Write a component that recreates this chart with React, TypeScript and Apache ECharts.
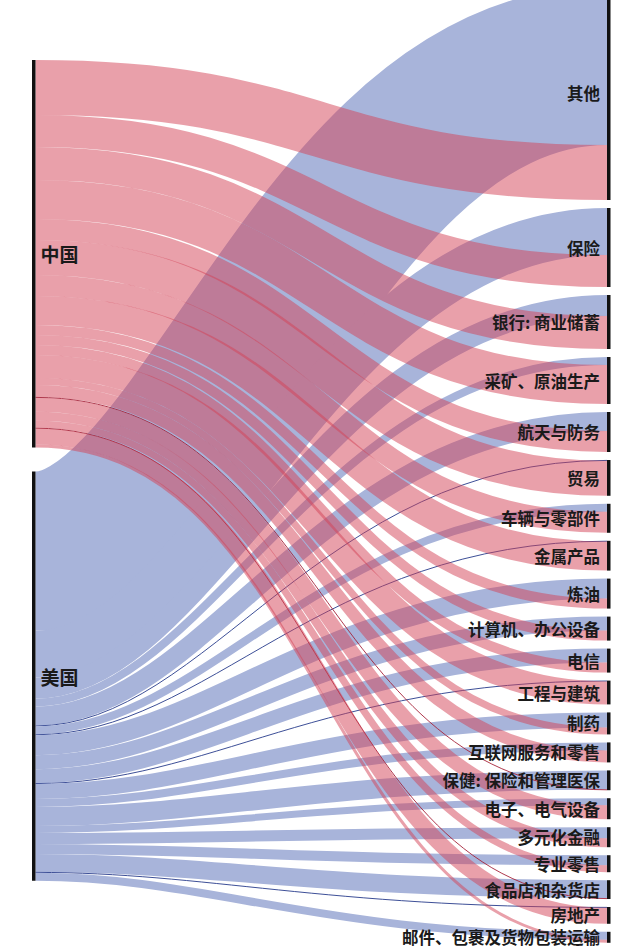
import { useEffect, useRef } from 'react';
import * as echarts from 'echarts';

// ---- data ----
const SOURCES = ['中国', '美国'];
const TARGETS = [
  '其他',
  '保险',
  '银行: 商业储蓄',
  '采矿、原油生产',
  '航天与防务',
  '贸易',
  '车辆与零部件',
  '金属产品',
  '炼油',
  '计算机、办公设备',
  '电信',
  '工程与建筑',
  '制药',
  '互联网服务和零售',
  '保健: 保险和管理医保',
  '电子、电气设备',
  '多元化金融',
  '专业零售',
  '食品店和杂货店',
  '房地产',
  '邮件、包裹及货物包装运输',
];
const US_VALUES = [159, 47, 21, 8, 19, 0.8, 8, 0.8, 20, 14, 14, 0.8, 15, 8, 19, 7, 11, 10, 18, 0.8, 8];
const CN_VALUES = [55, 32, 33, 39, 21, 35, 21, 29, 10, 10, 10, 23, 7, 12, 0.8, 14, 9, 7, 0.8, 16, 3];

// ---- layout (value units on the y axis) ----
const RIGHT_START = -14;
const LEFT_START = 60;
const LEFT_GAP = 24;
const RIGHT_GAP = 8;
const THIN_LIMIT = 1;

const CN_COLOR = 'rgba(211,65,85,0.5)';
const US_COLOR = 'rgb(168,180,218)';
const CN_THIN = 'rgba(165,35,58,0.9)';
const US_THIN = 'rgba(40,60,140,0.9)';
const FONT = '"Noto Sans CJK SC", "Noto Sans", sans-serif';

export default function App() {
  const ref = useRef<HTMLDivElement>(null);

  useEffect(() => {
    const chart = echarts.init(ref.current as HTMLDivElement, null, { renderer: 'svg' });

    const sum = (a: number[]) => a.reduce((s, v) => s + v, 0);
    const cnTotal = sum(CN_VALUES);
    const usTotal = sum(US_VALUES);

    const targetTops: number[] = [];
    let cur = RIGHT_START;
    TARGETS.forEach((_, i) => {
      targetTops.push(cur);
      cur += US_VALUES[i] + CN_VALUES[i] + RIGHT_GAP;
    });
    const leftTops = [LEFT_START, LEFT_START + cnTotal + LEFT_GAP];
    const leftSizes = [cnTotal, usTotal];

    const makeLinks = (vals: number[], srcTop: number, tgtOffset: (i: number) => number) => {
      let c = srcTop;
      return vals.map((v, i) => {
        const s = c + v / 2;
        c += v;
        return [s, tgtOffset(i) + v / 2, v];
      });
    };
    const usLinks = makeLinks(US_VALUES, leftTops[1], (i) => targetTops[i]);
    const cnLinks = makeLinks(CN_VALUES, leftTops[0], (i) => targetTops[i] + US_VALUES[i]);

    const linkRender = (color: string, thinColor: string, c1: number, c2: number) => (_params: any, api: any) => {
      const sy = api.value(0);
      const ty = api.value(1);
      const v = api.value(2);
      const p0 = api.coord([0, sy]);
      const p1 = api.coord([1, ty]);
      const w = api.size([0, v])[1];
      const dx = p1[0] - p0[0];
      const thin = v < THIN_LIMIT;
      return {
        type: 'bezierCurve',
        shape: {
          x1: p0[0], y1: p0[1], x2: p1[0], y2: p1[1],
          cpx1: p0[0] + dx * c1, cpy1: p0[1], cpx2: p0[0] + dx * c2, cpy2: p1[1],
        },
        style: {
          fill: null,
          stroke: thin ? thinColor : color,
          lineWidth: thin ? 1 : w,
        },
      };
    };

    const nodeNames = [...SOURCES, ...TARGETS];
    const nodeData = [
      [0, leftTops[0], leftSizes[0], 0],
      [0, leftTops[1], leftSizes[1], 0],
      ...TARGETS.map((_, i) => [1, targetTops[i], US_VALUES[i] + CN_VALUES[i], 1]),
    ];

    const nodeRender = (params: any, api: any) => {
      const p = api.coord([api.value(0), api.value(1)]);
      const h = api.size([0, api.value(2)])[1];
      const side = api.value(3);
      const barW = 3.5;
      return {
        type: 'group',
        children: [
          {
            type: 'rect',
            shape: { x: side === 0 ? p[0] - barW : p[0], y: p[1], width: barW, height: h },
            style: { fill: '#111' },
          },
          {
            type: 'text',
            style: {
              text: nodeNames[params.dataIndex],
              x: side === 0 ? p[0] + 5 : p[0] - 7,
              y: p[1] + h / 2,
              align: side === 0 ? 'left' : 'right',
              verticalAlign: 'middle',
              fontSize: side === 0 ? 19 : 16.5,
              lineHeight: side === 0 ? 20 : 18,
              fontWeight: 'bold',
              fontFamily: FONT,
              fill: '#1a1a1a',
            },
          },
        ],
      };
    };

    chart.setOption({
      animation: false,
      grid: { left: 35.5, right: 33, top: 0, bottom: 0 },
      xAxis: { type: 'value', min: 0, max: 1, show: false },
      yAxis: { type: 'value', min: 0, max: 949, inverse: true, show: false },
      series: [
        { type: 'custom', coordinateSystem: 'cartesian2d', renderItem: linkRender(US_COLOR, US_THIN, 0.3, 0.5), data: usLinks, silent: true, z: 1 },
        { type: 'custom', coordinateSystem: 'cartesian2d', renderItem: linkRender(CN_COLOR, CN_THIN, 0.5, 0.5), data: cnLinks, silent: true, z: 2 },
        { type: 'custom', coordinateSystem: 'cartesian2d', renderItem: nodeRender, data: nodeData, silent: true, z: 3 },
      ],
    });

    return () => chart.dispose();
  }, []);

  return (
    <div
      ref={ref}
      style={{ position: 'fixed', left: 0, top: 0, width: 640, height: 949, background: '#fff' }}
    />
  );
}
